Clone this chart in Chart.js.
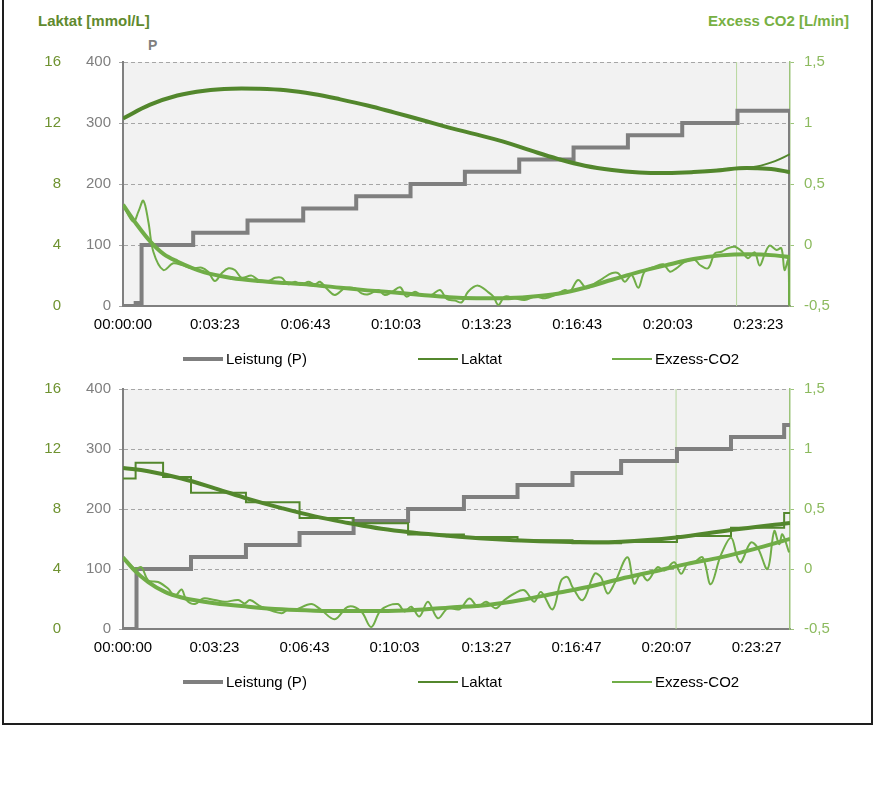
<!DOCTYPE html>
<html><head><meta charset="utf-8">
<script src="https://cdn.jsdelivr.net/npm/chart.js@4"></script>
<style>
html,body{margin:0;padding:0;background:#fff;overflow:hidden;}
body{width:877px;height:800px;position:relative;font-family:'Liberation Sans',Arial,sans-serif;}
.frame{position:absolute;left:2px;top:-3px;width:867px;height:724px;border:2px solid #1e1e1e;}
.cw{position:absolute;left:0;width:877px;}
.title{position:absolute;font-weight:bold;font-size:15px;line-height:15px;white-space:nowrap;}
.leg{position:absolute;font-size:15px;line-height:18px;color:#000;white-space:nowrap;}
.sw{position:absolute;}
</style></head>
<body>
<div class="frame"></div>
<div class="title" style="left:38px;top:13px;color:#5f8a2e">Laktat [mmol/L]</div>
<div class="title" style="right:28px;top:13px;color:#77b043">Excess CO2 [L/min]</div>
<div class="title" style="left:148px;top:38px;color:#7f7f7f;font-size:14px">P</div>
<div class="cw" style="top:0;height:372px"><canvas id="c1" width="877" height="372"></canvas></div>
<div class="cw" style="top:370px;height:352px"><canvas id="c2" width="877" height="352"></canvas></div>
<script>
// ---------- axis ticks ----------
const xTickValuesTop = [0, 203, 403, 603, 803, 1003, 1203, 1403];
const xTickLabelsTop = ['00:00:00','0:03:23','0:06:43','0:10:03','0:13:23','0:16:43','0:20:03','0:23:23'];
const xTickValuesBottom = [0, 203, 403, 603, 807, 1007, 1207, 1407];
const xTickLabelsBottom = ['00:00:00','0:03:23','0:06:43','0:10:03','0:13:27','0:16:47','0:20:07','0:23:27'];
const powerTicks = [0, 100, 200, 300, 400];
const lactateTicks = [0, 4, 8, 12, 16];
const co2Ticks = [-0.5, 0, 0.5, 1, 1.5];
const co2TickLabels = ['-0,5', '0', '0,5', '1', '1,5'];
const seriesNames = ['Leistung (P)', 'Laktat', 'Exzess-CO2'];

// ---------- top chart data (time in s) ----------
const topEnd = 1473;
const topMarkerTime = 1355;
const topPowerTimes = [0, 24, 28, 33, 41, 155, 275, 398, 515, 635, 755, 875, 995, 1115, 1235, 1357, 1473, 1473];
const topPowerWatts = [0, 0, 5, 0, 100, 120, 140, 160, 180, 200, 220, 240, 260, 280, 300, 320, 320, 0];

const topLacTimes = [0, 60, 120, 180, 240, 300, 360, 420, 480, 540, 600, 660, 720, 780, 840, 900, 960, 1020, 1080, 1140, 1200, 1260, 1320, 1360, 1400, 1440, 1473];
const topLacValues = [12.3, 13.2, 13.8, 14.12, 14.25, 14.24, 14.14, 13.9, 13.55, 13.15, 12.68, 12.2, 11.7, 11.25, 10.78, 10.2, 9.65, 9.2, 8.9, 8.74, 8.72, 8.8, 8.95, 9.05, 9.15, 9.5, 9.95];
const topLacTrend = [12.3, 13.2, 13.8, 14.12, 14.25, 14.24, 14.14, 13.9, 13.55, 13.15, 12.68, 12.2, 11.7, 11.25, 10.78, 10.2, 9.65, 9.2, 8.92, 8.76, 8.72, 8.78, 8.9, 9.03, 9.03, 8.95, 8.77];

const topCo2TrendTimes = [0, 30, 60, 90, 120, 180, 240, 300, 360, 420, 480, 540, 600, 660, 720, 780, 840, 900, 960, 1020, 1080, 1140, 1200, 1260, 1320, 1380, 1440, 1473];
const topCo2Trend = [0.33, 0.17, 0.03, -0.075, -0.135, -0.225, -0.27, -0.295, -0.312, -0.327, -0.35, -0.372, -0.39, -0.41, -0.428, -0.436, -0.437, -0.425, -0.4, -0.35, -0.285, -0.22, -0.165, -0.115, -0.085, -0.075, -0.085, -0.1];

const topCo2Times = [0, 23, 34, 45, 56, 67, 89, 111, 130, 152, 174, 188, 203, 218, 233, 247, 262, 284, 299, 321, 336, 350, 365, 380, 394, 409, 424, 435, 453, 468, 490, 512, 527, 542, 564, 578, 593, 612, 626, 645, 659, 681, 700, 715, 733, 748, 762, 784, 807, 818, 829, 843, 865, 887, 910, 932, 954, 976, 987, 1005, 1024, 1042, 1060, 1079, 1094, 1108, 1123, 1138, 1152, 1174, 1193, 1208, 1222, 1241, 1263, 1274, 1292, 1307, 1322, 1336, 1351, 1366, 1380, 1395, 1406, 1417, 1428, 1443, 1454, 1461, 1469, 1471];
const topCo2Values = [0.328, 0.191, 0.273, 0.363, 0.191, -0.055, -0.205, -0.15, -0.164, -0.191, -0.186, -0.219, -0.295, -0.232, -0.191, -0.205, -0.268, -0.251, -0.287, -0.295, -0.268, -0.268, -0.322, -0.301, -0.328, -0.301, -0.322, -0.301, -0.369, -0.41, -0.355, -0.355, -0.396, -0.404, -0.369, -0.41, -0.388, -0.347, -0.423, -0.383, -0.415, -0.41, -0.369, -0.443, -0.455, -0.47, -0.383, -0.333, -0.388, -0.423, -0.492, -0.423, -0.437, -0.451, -0.423, -0.437, -0.41, -0.369, -0.383, -0.287, -0.355, -0.314, -0.273, -0.232, -0.232, -0.301, -0.246, -0.35, -0.219, -0.178, -0.158, -0.219, -0.191, -0.137, -0.123, -0.164, -0.191, -0.068, -0.055, -0.027, -0.014, -0.049, -0.109, -0.06, -0.169, -0.077, -0.005, -0.041, -0.027, -0.205, -0.123, -0.497];

// ---------- bottom chart data (time in s) ----------
const bottomEnd = 1481;
const bottomMarkerTime = 1228;
const bottomPowerTimes = [0, 30, 151, 273, 392, 512, 633, 757, 876, 998, 1106, 1230, 1350, 1468, 1481];
const bottomPowerWatts = [0, 100, 120, 140, 160, 180, 200, 220, 240, 260, 280, 300, 320, 340, 340];

const bottomLacTimes = [0, 28, 89, 151, 273, 392, 512, 633, 757, 876, 998, 1106, 1230, 1350, 1468, 1481];
const bottomLacValues = [10.03, 11.09, 10.14, 9.09, 8.45, 7.4, 7.05, 6.3, 6.13, 5.92, 5.72, 5.8, 6.2, 6.75, 7.73, 7.73];
const bottomLacTrendTimes = [0, 56, 130, 204, 278, 352, 426, 500, 574, 647, 721, 810, 884, 995, 1106, 1228, 1350, 1481];
const bottomLacTrend = [10.74, 10.52, 10.03, 9.38, 8.68, 8.06, 7.51, 7.07, 6.68, 6.42, 6.22, 6.02, 5.9, 5.8, 5.82, 6.1, 6.6, 7.07];

const bottomCo2TrendTimes = [0, 26, 56, 93, 130, 204, 278, 352, 426, 500, 574, 647, 721, 810, 884, 958, 1032, 1106, 1179, 1253, 1327, 1401, 1481];
const bottomCo2Trend = [0.097, -0.013, -0.109, -0.191, -0.237, -0.286, -0.314, -0.336, -0.347, -0.35, -0.35, -0.341, -0.322, -0.3, -0.259, -0.204, -0.15, -0.081, -0.021, 0.043, 0.097, 0.166, 0.25];

const bottomCo2Times = [0, 27, 41, 56, 78, 100, 115, 130, 141, 160, 178, 204, 226, 256, 270, 282, 307, 352, 367, 381, 418, 440, 470, 500, 529, 551, 573, 610, 625, 640, 658, 677, 699, 721, 747, 769, 788, 806, 828, 847, 869, 891, 913, 928, 954, 973, 987, 998, 1021, 1047, 1061, 1076, 1091, 1120, 1135, 1150, 1165, 1187, 1202, 1224, 1239, 1253, 1268, 1287, 1305, 1327, 1350, 1364, 1372, 1394, 1409, 1431, 1446, 1457, 1464, 1479];
const bottomCo2Values = [0.097, 0.001, 0.015, -0.095, -0.108, -0.163, -0.226, -0.171, -0.259, -0.292, -0.245, -0.259, -0.273, -0.259, -0.287, -0.259, -0.314, -0.369, -0.336, -0.341, -0.292, -0.341, -0.418, -0.314, -0.355, -0.484, -0.341, -0.292, -0.355, -0.314, -0.396, -0.273, -0.41, -0.328, -0.336, -0.245, -0.314, -0.273, -0.328, -0.259, -0.204, -0.177, -0.273, -0.191, -0.336, -0.095, -0.067, -0.15, -0.259, -0.04, -0.067, -0.204, -0.122, 0.097, -0.122, -0.04, -0.095, 0.015, -0.013, 0.056, -0.04, 0.042, 0.056, 0.097, -0.128, 0.111, 0.261, 0.097, 0.056, 0.22, 0.179, 0.001, 0.316, 0.207, 0.289, 0.138];

// ---------- styling ----------
const FONT = "'Liberation Sans', Arial, sans-serif";
const C_POWER = '#7f7f7f';
const C_LAC = '#53872d';
const C_CO2 = '#70ad47';
const C_MARK = '#b7d79d';
const legendLefts = [183, 418, 612];

const pts = (ts, vs) => ts.map((t, i) => ({x: t, y: vs[i]}));

const plotBg = {
  id: 'plotBg',
  beforeDraw(chart) {
    const {ctx, chartArea: a} = chart;
    ctx.save();
    ctx.fillStyle = '#f2f2f2';
    ctx.fillRect(a.left, a.top, a.right - a.left, a.bottom - a.top);
    ctx.restore();
  }
};

function makeChart(canvasId, d) {
  const datasets = [
    {label: seriesNames[0], inLegend: true, data: pts(d.powerT, d.powerV), yAxisID: 'yP',
     borderColor: C_POWER, borderWidth: 4, stepped: true, order: 5},
    {label: seriesNames[1], inLegend: true, data: pts(d.lacT, d.lacV), yAxisID: 'yL',
     borderColor: C_LAC, borderWidth: 2, stepped: d.lacStepped, tension: d.lacStepped ? 0 : 0.4, order: 3},
    {label: 'Laktat Trend', data: pts(d.lacTrendT, d.lacTrendV), yAxisID: 'yL',
     borderColor: C_LAC, borderWidth: 4, tension: 0.4, order: 4},
    {label: seriesNames[2], inLegend: true, data: pts(d.co2T, d.co2V), yAxisID: 'yC',
     borderColor: C_CO2, borderWidth: 2, tension: 0.35, order: 1},
    {label: 'Exzess-CO2 Trend', data: pts(d.co2TrendT, d.co2TrendV), yAxisID: 'yC',
     borderColor: C_CO2, borderWidth: 4, cubicInterpolationMode: 'monotone', order: 2},
    {label: 'Marker', data: [{x: d.marker, y: co2Ticks[0]}, {x: d.marker, y: co2Ticks[co2Ticks.length - 1]}], yAxisID: 'yC',
     borderColor: C_MARK, borderWidth: 1, order: 6}
  ];
  datasets.forEach(ds => { ds.pointRadius = 0; ds.fill = false; ds.backgroundColor = ds.borderColor; });

  const chart = new Chart(document.getElementById(canvasId), {
    type: 'line',
    data: {datasets},
    plugins: [plotBg],
    options: {
      responsive: false,
      animation: false,
      events: [],
      layout: {padding: {left: 0, right: 0, top: d.padTop, bottom: d.padBottom}},
      plugins: {legend: {display: false}, tooltip: {enabled: false}},
      scales: {
        x: {
          type: 'linear', min: 0, max: d.xMax,
          afterBuildTicks: s => { s.ticks = d.xTicks.map(v => ({value: v})); },
          afterFit: s => { s.height = 27; },
          ticks: {autoSkip: false, maxRotation: 0, padding: 10, color: '#000',
                  font: {family: FONT, size: 15}, callback: (v, i) => d.xLabels[i]},
          grid: {display: false, drawTicks: false},
          border: {display: true, color: '#808080', width: 2}
        },
        yL: {
          position: 'left', weight: 2, min: lactateTicks[0], max: lactateTicks[lactateTicks.length - 1],
          afterBuildTicks: s => { s.ticks = lactateTicks.map(v => ({value: v})); },
          afterFit: s => { s.width = 65; },
          ticks: {padding: 4, color: '#6f9331', font: {family: FONT, size: 15}},
          grid: {display: false, drawTicks: false},
          border: {display: false}
        },
        yP: {
          position: 'left', weight: 1, min: powerTicks[0], max: powerTicks[powerTicks.length - 1],
          afterBuildTicks: s => { s.ticks = powerTicks.map(v => ({value: v})); },
          afterFit: s => { s.width = 58; },
          ticks: {padding: 8, color: '#7f7f7f', font: {family: FONT, size: 15}},
          grid: {color: '#a6a6a6', lineWidth: 1, drawTicks: true, tickLength: 4, tickColor: '#a6a6a6'},
          border: {display: true, color: '#808080', width: 2, dash: [4, 3]}
        },
        yC: {
          position: 'right', min: co2Ticks[0], max: co2Ticks[co2Ticks.length - 1],
          afterBuildTicks: s => { s.ticks = co2Ticks.map(v => ({value: v})); },
          afterFit: s => { s.width = 87; },
          ticks: {padding: 10, color: '#8cba5e', font: {family: FONT, size: 15},
                  callback: (v, i) => co2TickLabels[i]},
          grid: {drawOnChartArea: false, drawTicks: true, tickLength: 4, tickColor: '#9cc47a', lineWidth: 1},
          border: {display: true, color: '#9cc47a', width: 1.5}
        }
      }
    }
  });
  return chart;
}

function buildLegend(chart, centerY) {
  chart.data.datasets.filter(ds => ds.inLegend).forEach((ds, i) => {
    const sw = document.createElement('div');
    sw.className = 'sw';
    const h = ds.borderWidth;
    sw.style.cssText = `left:${legendLefts[i]}px;top:${centerY - h / 2}px;width:40px;height:${h}px;background:${ds.borderColor}`;
    document.body.appendChild(sw);
    const tx = document.createElement('div');
    tx.className = 'leg';
    tx.style.cssText = `left:${legendLefts[i] + 43}px;top:${centerY - 9}px`;
    tx.textContent = ds.label;
    document.body.appendChild(tx);
  });
}

const top1 = makeChart('c1', {
  xMax: topEnd, xTicks: xTickValuesTop, xLabels: xTickLabelsTop, padTop: 62, padBottom: 39,
  powerT: topPowerTimes, powerV: topPowerWatts,
  lacT: topLacTimes, lacV: topLacValues, lacStepped: false,
  lacTrendT: topLacTimes, lacTrendV: topLacTrend,
  co2T: topCo2Times, co2V: topCo2Values,
  co2TrendT: topCo2TrendTimes, co2TrendV: topCo2Trend,
  marker: topMarkerTime
});
const bottom1 = makeChart('c2', {
  xMax: bottomEnd, xTicks: xTickValuesBottom, xLabels: xTickLabelsBottom, padTop: 16, padBottom: 66,
  powerT: bottomPowerTimes, powerV: bottomPowerWatts,
  lacT: bottomLacTimes, lacV: bottomLacValues, lacStepped: true,
  lacTrendT: bottomLacTrendTimes, lacTrendV: bottomLacTrend,
  co2T: bottomCo2Times, co2V: bottomCo2Values,
  co2TrendT: bottomCo2TrendTimes, co2TrendV: bottomCo2Trend,
  marker: bottomMarkerTime
});
buildLegend(top1, 359);
buildLegend(bottom1, 682);
</script>
</body></html>
